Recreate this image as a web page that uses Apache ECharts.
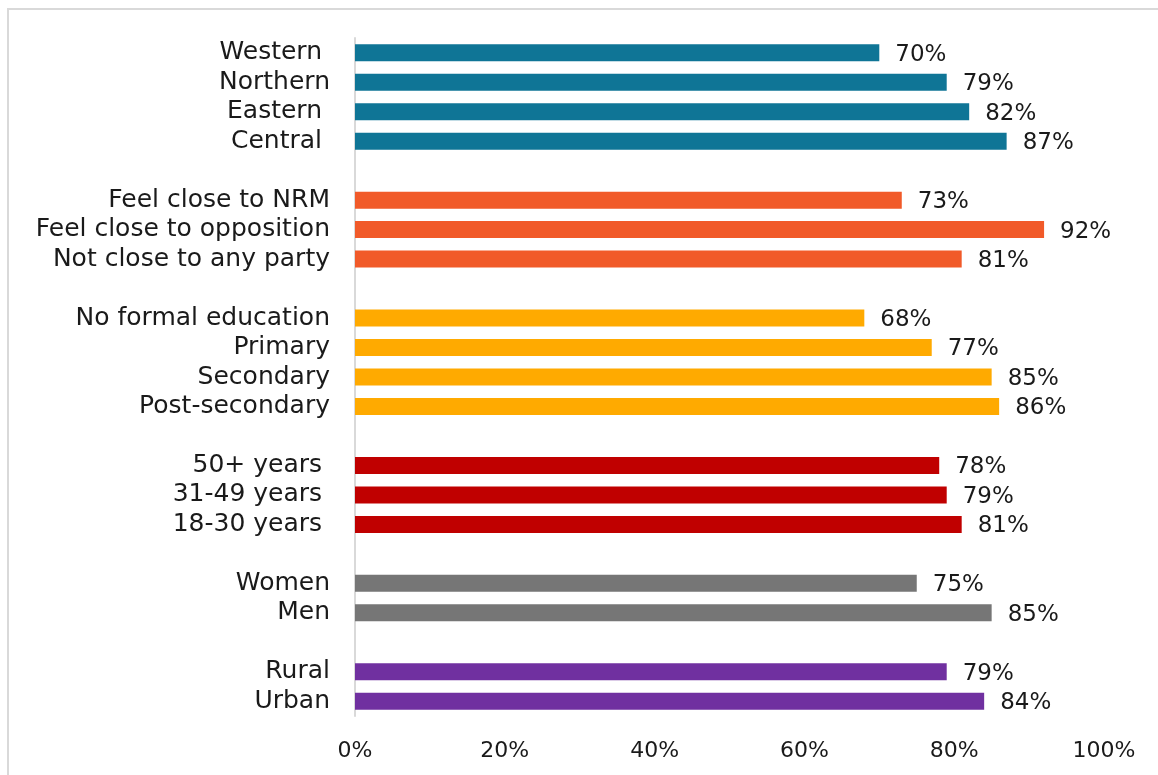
<!DOCTYPE html>
<html>
<head>
<meta charset="utf-8">
<title>chart</title>
<script src="https://cdn.jsdelivr.net/npm/echarts@6/dist/echarts.min.js"></script>
<style>
  html, body { margin: 0; padding: 0; background: #fff; }
  #chartId { width: 1158px; height: 775px; }
</style>
</head>
<body>
<div id="chartId"></div>
<script>
// 各分组的类别和数值（%）
const regionLabels = ['Western ', 'Northern', 'Eastern ', 'Central ']
const regionValues = [70, 79, 82, 87]
const partyLabels = ['Feel close to NRM', 'Feel close to opposition', 'Not close to any party']
const partyValues = [73, 92, 81]
const eduLabels = ['No formal education', 'Primary', 'Secondary', 'Post-secondary']
const eduValues = [68, 77, 85, 86]
const ageLabels = ['50+ years ', '31-49 years ', '18-30 years ']
const ageValues = [78, 79, 81]
const genderLabels = ['Women', 'Men']
const genderValues = [75, 85]
const areaLabels = ['Rural', 'Urban']
const areaValues = [79, 84]
const tickValues = [0, 20, 40, 60, 80, 100]

const groups = [
  { labels: regionLabels, values: regionValues, color: '#0F7596' },
  { labels: partyLabels, values: partyValues, color: '#F15A29' },
  { labels: eduLabels, values: eduValues, color: '#FFAA00' },
  { labels: ageLabels, values: ageValues, color: '#C00000' },
  { labels: genderLabels, values: genderValues, color: '#767676' },
  { labels: areaLabels, values: areaValues, color: '#7030A0' }
]

// 组之间插入空白类别
let categories = []
let barData = []
groups.forEach(function(g, gi) {
  if (gi > 0) {
    categories.push('gap' + gi)
    barData.push(null)
  }
  g.labels.forEach(function(name, i) {
    categories.push(name)
    barData.push({ value: g.values[i], itemStyle: { color: g.color } })
  })
})

const font = 'DejaVu Sans'
let myChart = echarts.init(document.getElementById('chartId'))
let option = {
  animation: false,
  graphic: [
    {
      type: 'rect',
      shape: { x: 8, y: 9, width: 1300, height: 900 },
      style: { fill: 'none', stroke: '#d9d9d9', lineWidth: 2 },
      silent: true
    }
  ],
  grid: {
    left: 355,
    right: 54,
    top: 38,
    bottom: 59
  },
  xAxis: {
    type: 'value',
    min: 0,
    max: 100,
    interval: 20,
    splitLine: { show: false },
    axisLine: { show: false },
    axisTick: { show: false },
    axisLabel: {
      margin: 24,
      fontFamily: font,
      fontSize: 22,
      color: '#1a1a1a',
      formatter: function(v) {
        return tickValues.indexOf(v) >= 0 ? v + '%' : ''
      }
    }
  },
  yAxis: {
    type: 'category',
    inverse: true,
    data: categories,
    axisLine: { show: true, lineStyle: { color: '#d9d9d9', width: 2 } },
    axisTick: { show: false },
    axisLabel: {
      margin: 25,
      fontFamily: font,
      fontSize: 25,
      color: '#1a1a1a',
      interval: 0,
      padding: [3, 0, 0, 0],
      formatter: function(v) {
        return v.indexOf('gap') === 0 ? '' : v
      }
    }
  },
  series: [
    {
      type: 'bar',
      data: barData,
      barWidth: 17,
      label: {
        show: true,
        position: 'right',
        distance: 16,
        offset: [0, 2],
        fontFamily: font,
        fontSize: 23,
        color: '#1a1a1a',
        formatter: '{c}%'
      }
    }
  ]
}
myChart.setOption(option)
</script>
</body>
</html>
